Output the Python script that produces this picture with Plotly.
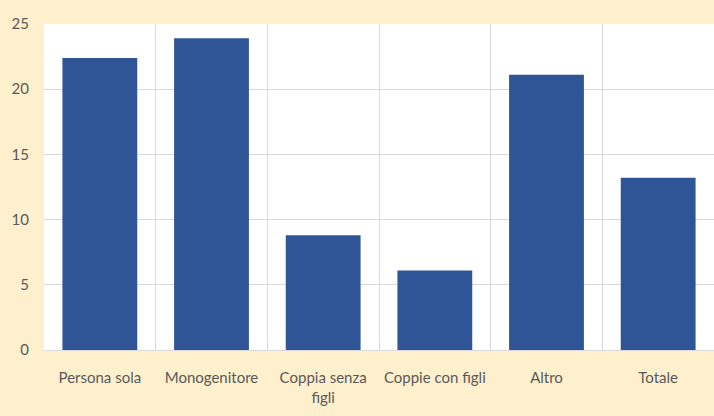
import plotly.graph_objects as go

categorie = ['Persona sola', 'Monogenitore', 'Coppia senza<br>figli', 'Coppie con figli', 'Altro', 'Totale']
valori = [22.4, 23.9, 8.8, 6.1, 21.1, 13.2]

fig = go.Figure(go.Bar(
    x=categorie,
    y=valori,
    marker_color='#2F5597',
    marker_line_width=0,
    width=0.67,
))

fig.update_layout(
    width=714,
    height=416,
    paper_bgcolor='#FFF0CD',
    plot_bgcolor='white',
    margin=dict(l=44, r=0, t=24, b=66),
    font=dict(family='Lato, Open Sans, sans-serif', size=14, color='#595959'),
    showlegend=False,
    bargap=0.33,
)
fig.update_xaxes(
    type='category',
    tickson='boundaries',
    showgrid=True,
    gridcolor='#D9D9D9',
    gridwidth=1,
    ticks='',
    showline=True,
    linecolor='#D9D9D9',
    ticklabelstandoff=14,
    tickfont=dict(size=15),
)
fig.update_yaxes(
    range=[0, 25],
    dtick=5,
    showgrid=True,
    gridcolor='#D9D9D9',
    gridwidth=1,
    zeroline=False,
    ticks='',
    ticklabelstandoff=14,
    tickfont=dict(size=15),
)

# niente margine del body, niente modebar
fig.write_html('out.html', config={'displayModeBar': False},
               post_script="document.body.style.margin='0';")
